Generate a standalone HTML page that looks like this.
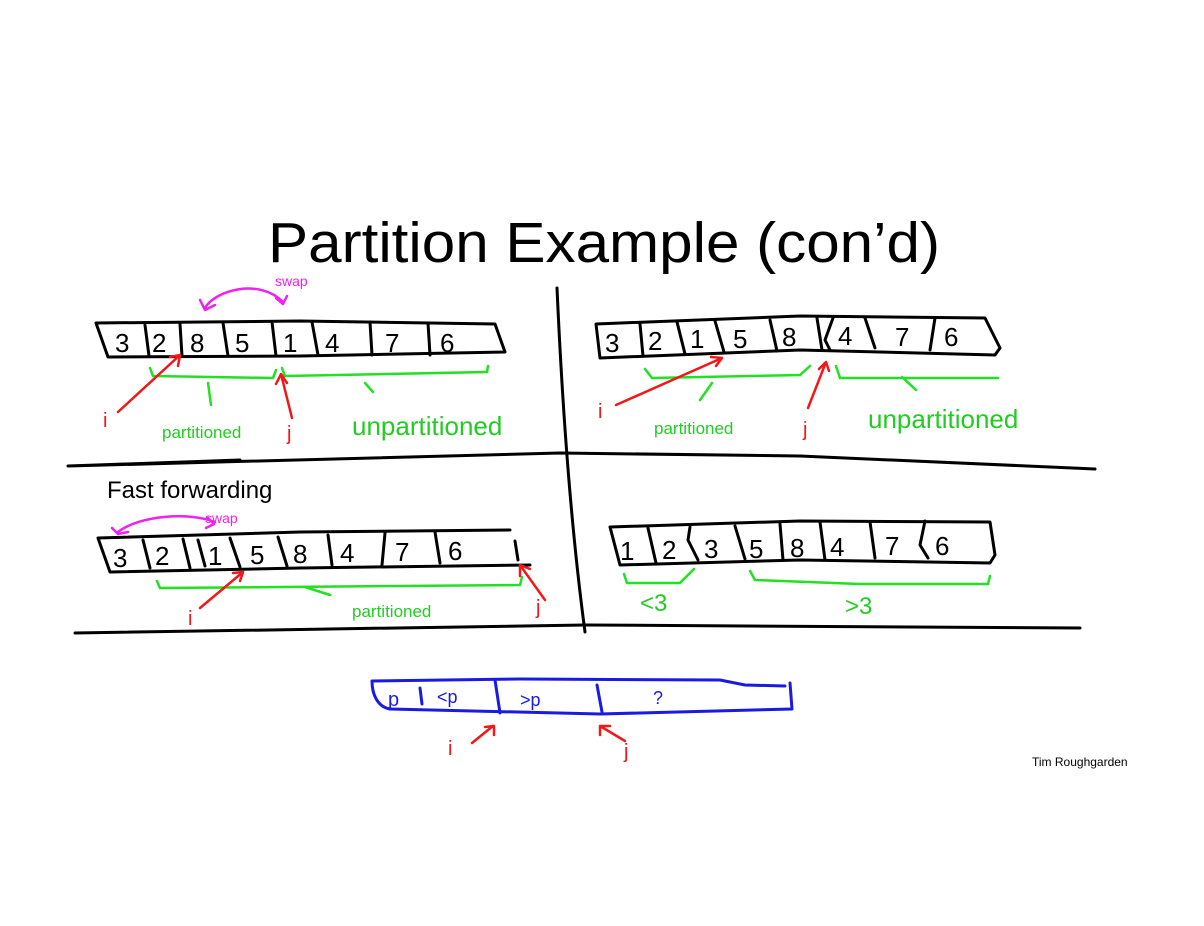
<!DOCTYPE html>
<html><head><meta charset="utf-8"><style>
html,body{margin:0;padding:0;background:#fff;}
svg{display:block;}
text{font-family:"Liberation Sans",sans-serif;}
.d{font-family:"Liberation Sans",sans-serif;font-size:26px;fill:#000;}
.k{fill:none;stroke:#000;stroke-width:3;stroke-linecap:round;stroke-linejoin:round;}
.g{fill:none;stroke:#22e022;stroke-width:2.5;stroke-linecap:round;}
.r{fill:none;stroke:#f01818;stroke-width:2.5;stroke-linecap:round;stroke-linejoin:round;}
.m{fill:none;stroke:#f020f0;stroke-width:2.5;stroke-linecap:round;stroke-linejoin:round;}
.b{fill:none;stroke:#1a1ae0;stroke-width:3;stroke-linecap:round;stroke-linejoin:round;}
.gt{fill:#22cc22;}
.rt{fill:#f01818;font-size:20px;}
</style></head><body>
<svg width="1204" height="926" viewBox="0 0 1204 926" xmlns="http://www.w3.org/2000/svg">
<text x="268" y="262" font-size="57" textLength="672" lengthAdjust="spacingAndGlyphs">Partition Example (con’d)</text>

<!-- grid lines -->
<path class="k" d="M557,288 C562,400 570,520 585,632"/>
<path class="k" d="M68,466 L240,460 M68,466 L560,453 L800,456 L1095,469"/>
<path class="k" d="M75,633 L585,625 L1080,628"/>

<!-- top-left -->
<path class="m" d="M205,308 C215,290 260,278 283,302 M200,300 L205,310 L215,305 M276,298 L283,304 L287,296"/>
<text x="275" y="286" fill="#f020f0" font-size="14">swap</text>
<path class="k" d="M96,323 L300,321 L495,324 L505,352 L300,356 L108,357 Z"/>
<path class="k" d="M145,325 L149,356 M180,324 L182,356 M223,323 L228,356 M272,322 L276,356 M312,322 L318,355 M370,322 L372,355 M428,323 L430,355"/>
<text class="d" x="115" y="352">3</text><text class="d" x="152" y="352">2</text><text class="d" x="190" y="352">8</text><text class="d" x="235" y="352">5</text><text class="d" x="283" y="352">1</text><text class="d" x="325" y="352">4</text><text class="d" x="385" y="352">7</text><text class="d" x="440" y="352">6</text>
<path class="g" d="M150,368 L153,376 L273,378 L276,370 M282,368 L285,376 L487,372 L488,366 M208,383 L211,405 M365,383 L373,392"/>
<path class="r" d="M118,412 L180,355 M170,357 L180,355 L178,366 M292,418 L281,374 M276,384 L281,374 L287,383"/>
<text class="rt" x="103" y="427">i</text><text class="rt" x="287" y="440">j</text>
<text class="gt" x="162" y="438" font-size="17">partitioned</text>
<text class="gt" x="352" y="435" font-size="26">unpartitioned</text>

<!-- top-right -->
<path class="k" d="M596,324 L800,316 L985,318 L1000,348 L995,355 L800,350 L600,358 Z"/>
<path class="k" d="M640,324 L643,356 M677,322 L685,354 M715,321 L724,352 M770,320 L777,351 M817,318 L822,350 M833,318 L825,340 L830,350 M865,318 L875,348 M935,318 L930,350"/>
<text class="d" x="605" y="352">3</text><text class="d" x="648" y="350">2</text><text class="d" x="690" y="348">1</text><text class="d" x="733" y="348">5</text><text class="d" x="782" y="346">8</text><text class="d" x="838" y="345">4</text><text class="d" x="895" y="346">7</text><text class="d" x="944" y="346">6</text>
<path class="g" d="M645,369 L652,378 L800,375 L810,366 M836,366 L840,378 L998,378 M712,383 L700,400 M902,377 L916,390"/>
<path class="r" d="M616,405 L722,358 M711,357 L722,358 L716,366 M808,408 L826,362 M819,369 L826,362 L829,371"/>
<text class="rt" x="598" y="418">i</text><text class="rt" x="803" y="436">j</text>
<text class="gt" x="654" y="434" font-size="17">partitioned</text>
<text class="gt" x="868" y="428" font-size="26">unpartitioned</text>

<!-- bottom-left -->
<text x="107" y="498" font-size="24">Fast forwarding</text>
<path class="m" d="M118,532 C140,515 190,512 215,522 M112,528 L118,534 L128,532 M208,518 L214,524 L206,528"/>
<text x="205" y="523" fill="#f020f0" font-size="14">swap</text>
<path class="k" d="M98,538 L300,532 L510,530 M98,538 L110,572 L300,568 L530,565 M515,541 L518,560"/>
<path class="k" d="M143,540 L150,568 M183,539 L190,568 M198,540 L205,566 M230,538 L240,567 M278,537 L287,566 M328,535 L332,565 M385,533 L382,565 M435,532 L440,563"/>
<text class="d" x="113" y="567">3</text><text class="d" x="155" y="565">2</text><text class="d" x="208" y="565">1</text><text class="d" x="250" y="564">5</text><text class="d" x="293" y="563">8</text><text class="d" x="340" y="562">4</text><text class="d" x="395" y="561">7</text><text class="d" x="448" y="560">6</text>
<path class="g" d="M157,581 L160,588 L520,585 L522,577 M305,587 L330,595"/>
<path class="r" d="M200,608 L243,572 M233,573 L243,572 L240,581 M545,600 L520,565 M520,576 L520,565 L530,569"/>
<text class="rt" x="188" y="625">i</text><text class="rt" x="536" y="614">j</text>
<text class="gt" x="352" y="617" font-size="17">partitioned</text>

<!-- bottom-right -->
<path class="k" d="M610,527 L800,521 L990,522 L995,555 L990,563 L800,560 L620,565 Z"/>
<path class="k" d="M648,528 L656,563 M690,527 L688,540 L698,560 M735,526 L745,559 M780,524 L783,560 M820,522 L825,560 M870,522 L875,558 M925,521 L920,545 L928,558"/>
<text class="d" x="620" y="560">1</text><text class="d" x="662" y="559">2</text><text class="d" x="704" y="558">3</text><text class="d" x="749" y="558">5</text><text class="d" x="790" y="557">8</text><text class="d" x="830" y="556">4</text><text class="d" x="885" y="555">7</text><text class="d" x="935" y="555">6</text>
<path class="g" d="M624,574 L627,583 L680,583 L694,569 M750,571 L755,580 L860,584 L988,584 L990,576"/>
<text class="gt" x="640" y="611" font-size="24">&lt;3</text>
<text class="gt" x="845" y="614" font-size="24">&gt;3</text>

<!-- blue -->
<path class="b" d="M372,681 L520,679 L720,680 L745,685 L785,686 M372,681 C372,695 378,707 390,709 L600,714 L792,709 L790,683"/>
<path class="b" d="M420,688 L422,704 M495,680 L500,713 M597,685 L602,712"/>
<text x="388" y="706" font-size="20" fill="#1a1ae0">p</text>
<text x="437" y="703" font-size="18" fill="#1a1ae0">&lt;p</text>
<text x="520" y="706" font-size="18" fill="#1a1ae0">&gt;p</text>
<text x="653" y="704" font-size="18" fill="#1a1ae0">?</text>
<path class="r" d="M472,743 L493,726 M485,727 L494,726 L494,735 M625,741 L600,726 M600,735 L600,726 L610,726"/>
<text class="rt" x="448" y="755">i</text><text class="rt" x="624" y="758">j</text>

<text x="1032" y="766" font-size="12">Tim Roughgarden</text>
</svg>
</body></html>
